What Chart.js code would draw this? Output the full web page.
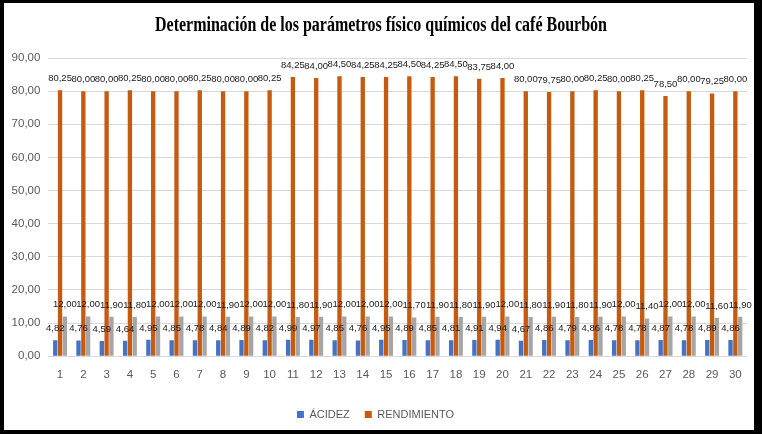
<!DOCTYPE html>
<html>
<head>
<meta charset="utf-8">
<script src="https://cdn.jsdelivr.net/npm/chart.js@4"></script>
<style>
  html, body { margin: 0; padding: 0; background: #000; }
  #wrap { position: absolute; left: 4px; top: 3px; width: 750px; height: 427px; background: #fff; }
</style>
</head>
<body>
<div id="wrap"><canvas id="myChart" width="750" height="427"></canvas></div>
<script>
const titleText = "Determinación de los parámetros físico químicos del café Bourbón";
const categories = ["1","2","3","4","5","6","7","8","9","10","11","12","13","14","15","16","17","18","19","20","21","22","23","24","25","26","27","28","29","30"];
const acidez = [4.82,4.76,4.59,4.64,4.95,4.85,4.78,4.84,4.89,4.82,4.99,4.97,4.85,4.76,4.95,4.89,4.85,4.81,4.91,4.94,4.67,4.86,4.79,4.86,4.78,4.78,4.87,4.78,4.89,4.86];
const rendimiento = [80.25,80.00,80.00,80.25,80.00,80.00,80.25,80.00,80.00,80.25,84.25,84.00,84.50,84.25,84.25,84.50,84.25,84.50,83.75,84.00,80.00,79.75,80.00,80.25,80.00,80.25,78.50,80.00,79.25,80.00];
const tercera = [12.00,12.00,11.90,11.80,12.00,12.00,12.00,11.90,12.00,12.00,11.80,11.90,12.00,12.00,12.00,11.70,11.90,11.80,11.90,12.00,11.80,11.90,11.80,11.90,12.00,11.40,12.00,12.00,11.60,11.90];
const yTicks = [0,10,20,30,40,50,60,70,80,90];

function fmt(v) {
  return v.toFixed(2).replace(".", ",");
}

// title drawn narrow like the original
const titlePlugin = {
  id: "narrowTitle",
  afterDraw(chart) {
    const ctx = chart.ctx;
    ctx.save();
    ctx.font = "bold 20px 'Liberation Serif'";
    ctx.fillStyle = "#000";
    ctx.textAlign = "center";
    ctx.textBaseline = "middle";
    const w = ctx.measureText(titleText).width;
    ctx.translate(377, 23);
    ctx.scale(452 / w, 1);
    ctx.fillText(titleText, 0, 0);
    ctx.restore();
  }
};

// value labels above each bar
const labelPlugin = {
  id: "valueLabels",
  afterDatasetsDraw(chart) {
    const ctx = chart.ctx;
    ctx.save();
    ctx.font = "9.5px 'Liberation Sans'";
    ctx.fillStyle = "#1a1a1a";
    ctx.textAlign = "center";
    ctx.textBaseline = "bottom";
    chart.data.datasets.forEach((ds, i) => {
      const meta = chart.getDatasetMeta(i);
      meta.data.forEach((bar, j) => {
        ctx.fillText(fmt(ds.data[j]), bar.x, bar.y - 7);
      });
    });
    ctx.restore();
  }
};

const ctx = document.getElementById("myChart");
const barChart = new Chart(ctx, {
  type: "bar",
  data: {
    labels: categories,
    datasets: [
      { label: "ÁCIDEZ", data: acidez, backgroundColor: "#4472C4" },
      { label: "RENDIMIENTO", data: rendimiento, backgroundColor: "#C55A11" },
      { label: "", data: tercera, backgroundColor: "#A5A5A5" },
    ],
  },
  options: {
    responsive: false,
    animation: false,
    datasets: { bar: { categoryPercentage: 0.62, barPercentage: 0.9 } },
    layout: { padding: { top: 55, right: 7, left: 0, bottom: 0 } },
    scales: {
      x: {
        grid: { display: false, drawTicks: false },
        border: { display: false },
        ticks: { color: "#595959", font: { size: 11.5, family: "'Liberation Sans'" }, padding: 12, maxRotation: 0, autoSkip: false },
      },
      y: {
        min: 0,
        max: 90,
        afterBuildTicks: (scale) => { scale.ticks = yTicks.map((v) => ({ value: v })); },
        afterFit: (scale) => { scale.width = 44.4; },
        grid: { color: "#D9D9D9", drawTicks: false },
        border: { display: false },
        ticks: { color: "#595959", font: { size: 11.5, family: "'Liberation Sans'" }, padding: 8, callback: (v) => fmt(v) },
      },
    },
    plugins: {
      legend: {
        position: "bottom",
        labels: {
          boxWidth: 7,
          boxHeight: 7,
          padding: 15,
          color: "#595959",
          font: { size: 11, family: "'Liberation Sans'" },
          filter: (item) => item.datasetIndex < 2,
        },
      },
      tooltip: { enabled: false },
    },
  },
  plugins: [titlePlugin, labelPlugin],
});
</script>
</body>
</html>
